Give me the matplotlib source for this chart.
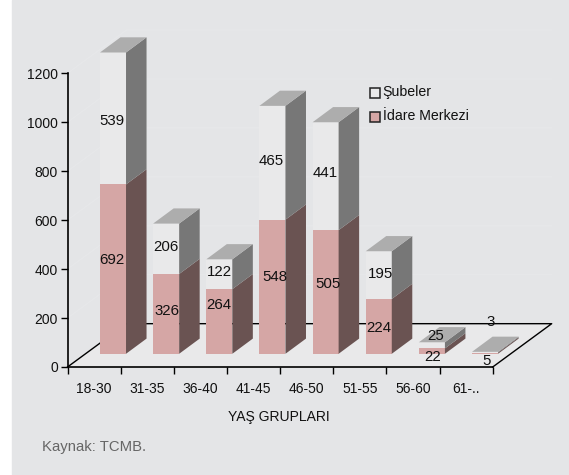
import matplotlib
matplotlib.use("Agg")
import matplotlib.pyplot as plt
from matplotlib.patches import Polygon, Rectangle

plt.rcParams["font.family"] = ["Liberation Sans", "DejaVu Sans"]

age_groups = ["18-30", "31-35", "36-40", "41-45", "46-50", "51-55", "56-60", "61-.."]
idare = [692, 326, 264, 548, 505, 224, 22, 5]
subeler = [539, 206, 122, 465, 441, 195, 25, 3]
y_ticks = [0, 200, 400, 600, 800, 1000, 1200]

# label nudges in pixels, (dx, dy) with dy pointing up
idare_nudge = [(-1, 9), (1, 3), (0, 16), (2, 10), (2, 8), (0, -2), (1, -6), (1.5, -8)]
subeler_nudge = [(-1, -3), (0, 2), (0, 2), (-1, 1.5), (0, 3), (2, 1), (4, 9), (6, 30)]

W, H = 569, 475
BG = "#e4e5e7"
FLOOR = "#e9e9ea"
PINK = "#d5a6a5"
PINK_SIDE = "#6a5352"
WHITE = "#e9e9ea"
WHITE_SIDE = "#777777"
TOP = "#adadad"

# pseudo 3d offsets in axis units (categories on x, values on y)
BAR_LEFT = 0.611
BAR_W = 0.49
BASE = 54
DX = 0.386
DY = 62
FLOOR_DX = 1.11
FLOOR_DY = 177

fig = plt.figure(figsize=(W / 100, H / 100), dpi=100, facecolor="white")
fig.add_artist(Rectangle((12 / W, 0), (W - 12) / W, 1, transform=fig.transFigure,
                         color=BG, zorder=-1))

ax = fig.add_axes([67.5 / W, 1 - 367 / H, 425.2 / W, 293.7 / H])
ax.patch.set_alpha(0)
ax.set_xlim(0, 8)
ax.set_ylim(0, 1200)


def poly(points, color, z):
    ax.add_patch(Polygon(points, closed=True, facecolor=color, edgecolor="none",
                         clip_on=False, zorder=z))


def value_label(value, x, y, nudge):
    ax.annotate(str(value), (x, y), xytext=nudge, textcoords="offset pixels",
                ha="center", va="center", fontsize=10.8, color="#111111",
                annotation_clip=False, zorder=8)


# floor and back wall grid
for t in y_ticks[1:]:
    ax.plot([0, FLOOR_DX, 8 + FLOOR_DX], [t, t + FLOOR_DY, t + FLOOR_DY],
            color="#e7e8ea", lw=0.8, clip_on=False, zorder=1)
poly([(0, 0), (8, 0), (8 + FLOOR_DX, FLOOR_DY), (FLOOR_DX, FLOOR_DY)], FLOOR, 1)
ax.plot([0, FLOOR_DX, 8 + FLOOR_DX, 8], [0, FLOOR_DY, FLOOR_DY, 0], color="black",
        lw=1, clip_on=False, zorder=2)

for i, (a, b) in enumerate(zip(idare, subeler)):
    x0 = i + BAR_LEFT
    x1 = x0 + BAR_W
    y1 = BASE + a
    y2 = y1 + b
    poly([(x0, BASE), (x1, BASE), (x1, y1), (x0, y1)], PINK, 5)
    poly([(x1, BASE), (x1 + DX, BASE + DY), (x1 + DX, y1 + DY), (x1, y1)], PINK_SIDE, 5)
    poly([(x0, y1), (x1, y1), (x1, y2), (x0, y2)], WHITE, 5)
    poly([(x1, y1), (x1 + DX, y1 + DY), (x1 + DX, y2 + DY), (x1, y2)], WHITE_SIDE, 5)
    poly([(x0, y2), (x1, y2), (x1 + DX, y2 + DY), (x0 + DX, y2 + DY)], TOP, 5)
    value_label(a, x0 + BAR_W / 2, BASE + a / 2, idare_nudge[i])
    value_label(b, x0 + BAR_W / 2, y1 + b / 2, subeler_nudge[i])

for s in ["top", "right"]:
    ax.spines[s].set_visible(False)
for s in ["left", "bottom"]:
    ax.spines[s].set_linewidth(1.2)
    ax.spines[s].set_zorder(7)

ax.set_yticks(y_ticks)
ax.set_xticks(range(9))
ax.set_xticklabels([])
ax.set_xticks([i + 0.5 for i in range(8)], age_groups, minor=True)
ax.tick_params(axis="x", which="minor", length=0, labelsize=10, pad=11, labelcolor="#111111")
ax.tick_params(axis="x", which="major", length=5, width=1)
ax.tick_params(axis="y", length=5, width=1, labelsize=10, pad=2, labelcolor="#111111")

fig.text(279 / W, 1 - 417 / H, "YAŞ GRUPLARI", fontsize=10, ha="center", va="center",
         color="#111111")

# legend
for y, color, name in [(92.7, WHITE, "Şubeler"), (117.3, PINK, "İdare Merkezi")]:
    fig.add_artist(Rectangle((369.5 / W, 1 - (y + 5) / H), 10 / W, 10 / H,
                             transform=fig.transFigure, facecolor=color,
                             edgecolor="#222222", lw=1.1))
    fig.text(382.7 / W, 1 - (y - 1) / H, name, fontsize=10.2, va="center", color="#111111")

fig.text(42.5 / W, 1 - 447 / H, "Kaynak: TCMB.", fontsize=10.7, va="center", color="#666666")

fig.savefig("out.png", dpi=100)
